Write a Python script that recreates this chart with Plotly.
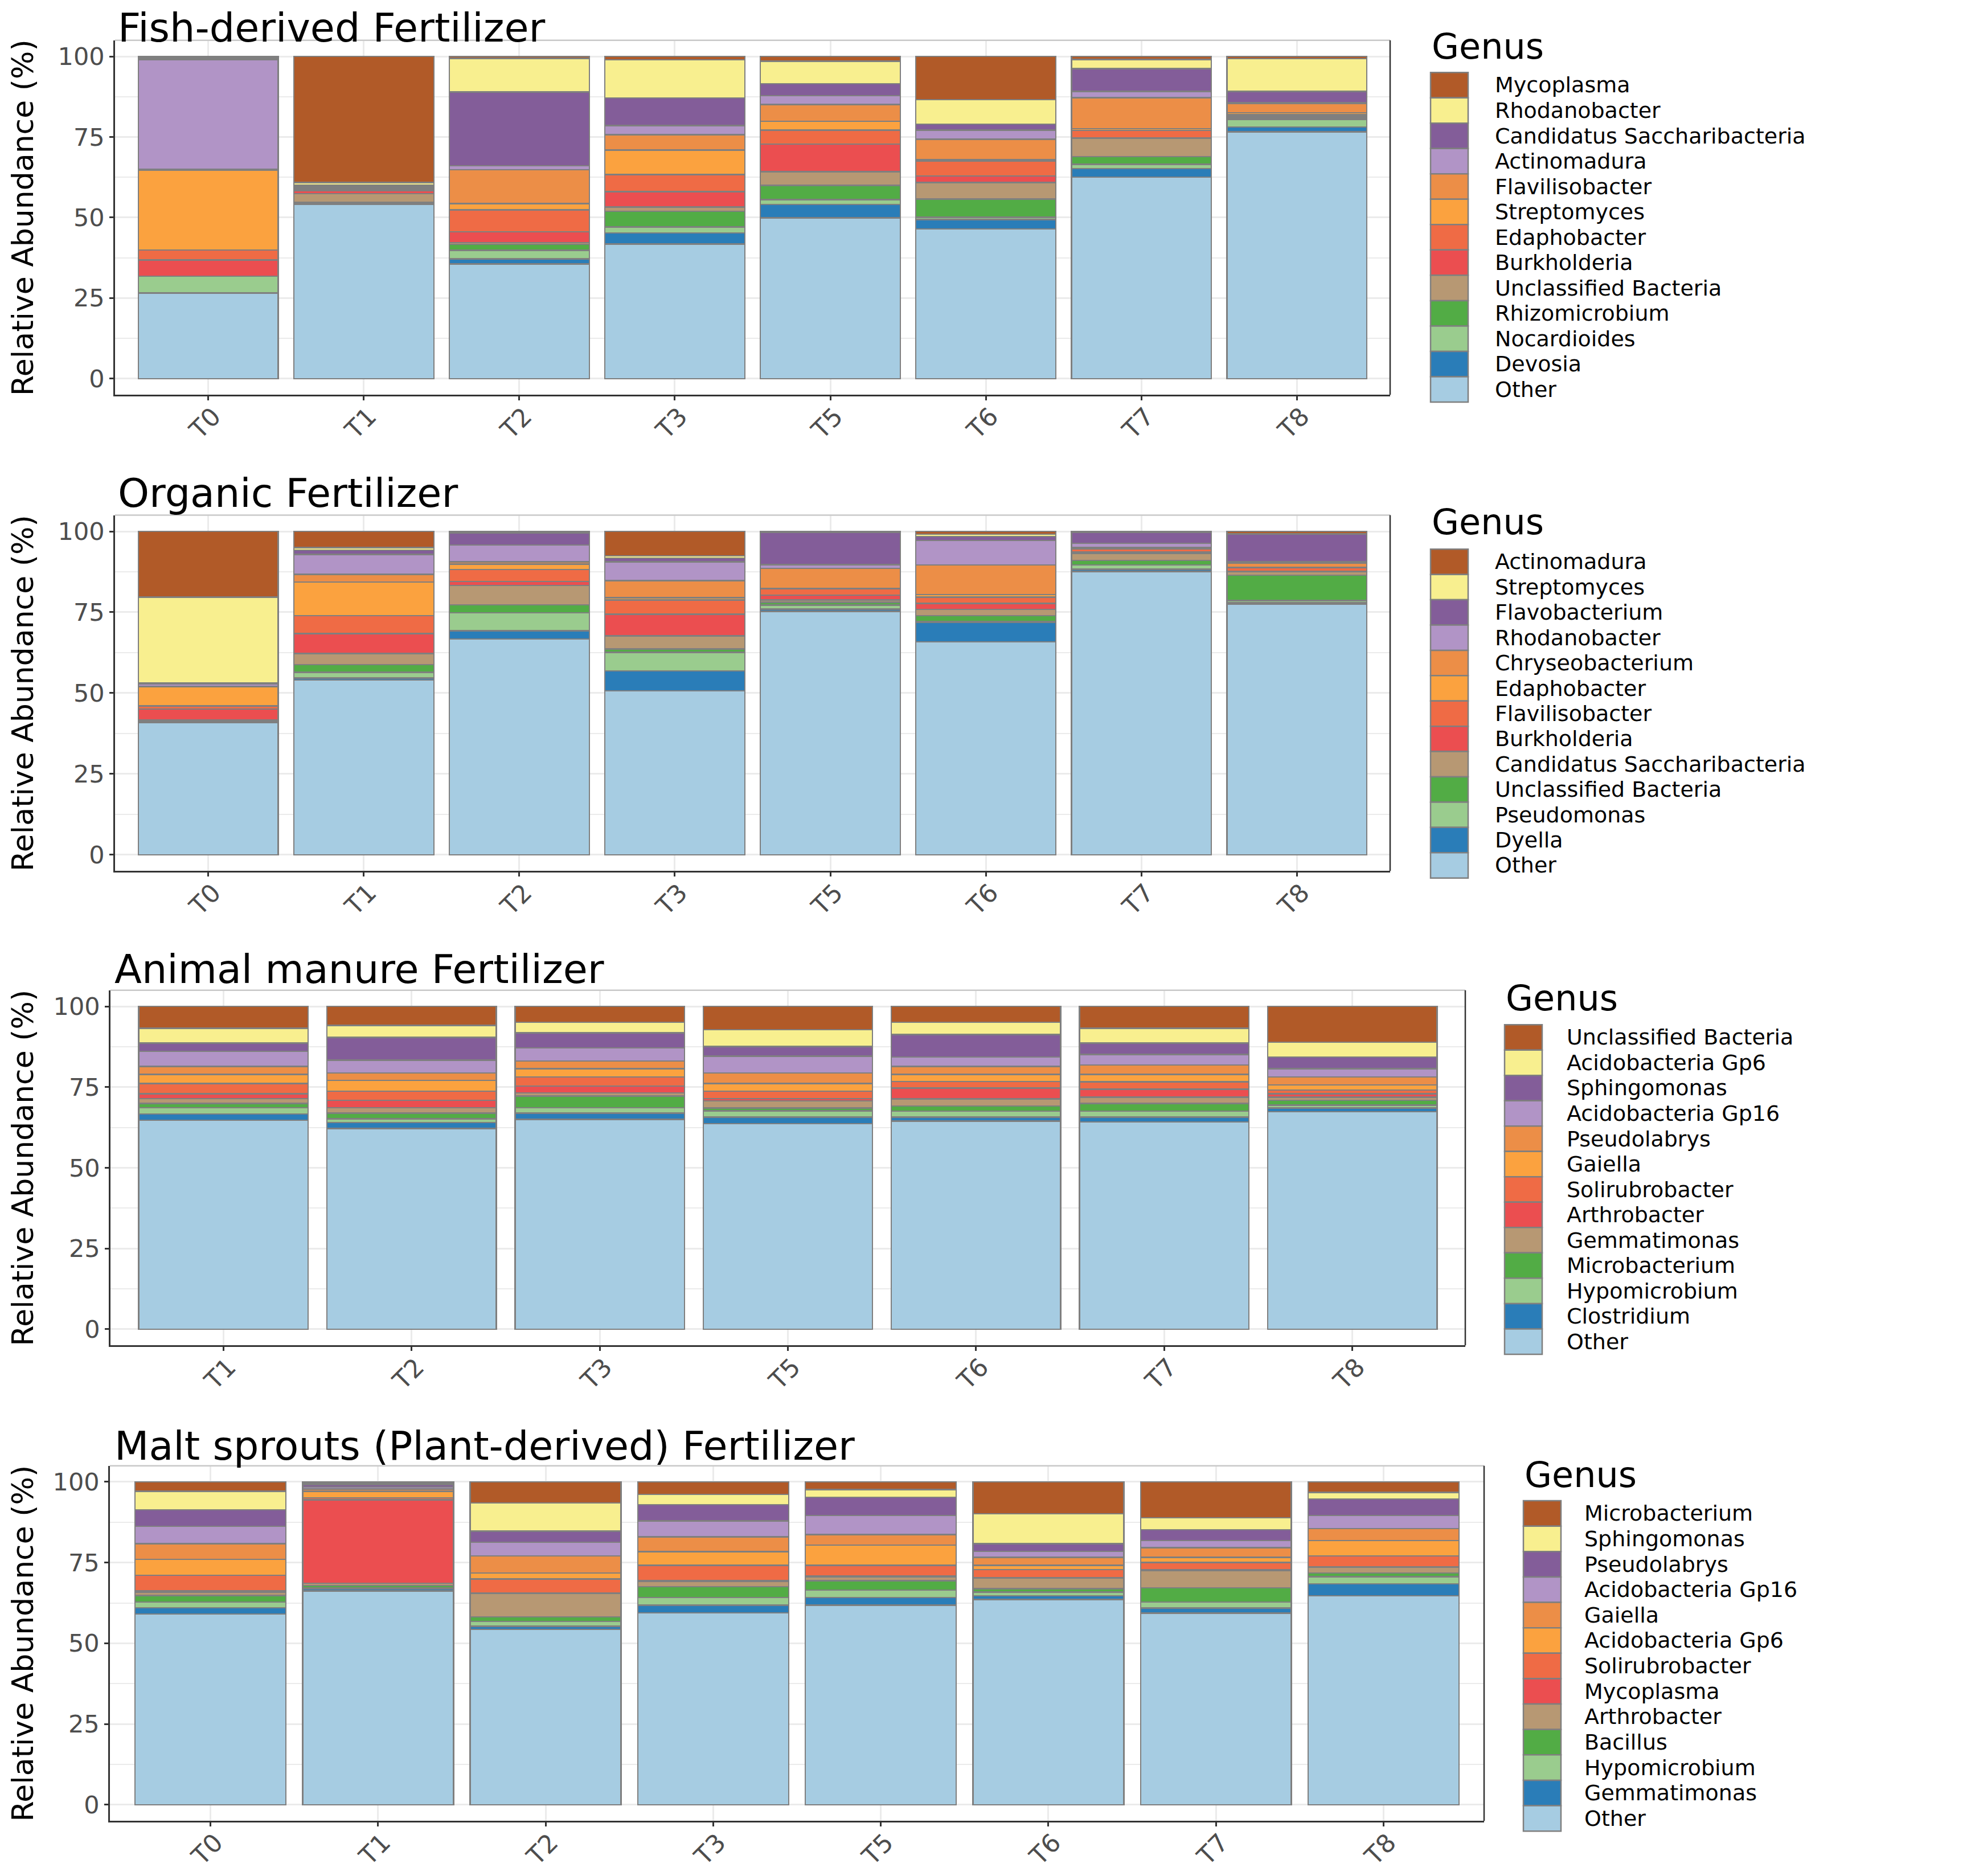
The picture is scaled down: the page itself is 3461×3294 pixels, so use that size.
import plotly.graph_objects as go

# Data (relative abundance in %, rows follow legend order, columns follow time points)

COLORS = ["#B15A28", "#F8EF8F", "#835D99", "#B194C6", "#EC8E47", "#FBA23F", "#EF6B45",
          "#EB4E50", "#B79873", "#52AC45", "#9ACC8E", "#2A7DB8", "#A6CCE2"]

FISH_TIMES = ["T0", "T1", "T2", "T3", "T5", "T6", "T7", "T8"]
FISH_GENERA = ["Mycoplasma", "Rhodanobacter", "Candidatus Saccharibacteria", "Actinomadura",
               "Flavilisobacter", "Streptomyces", "Edaphobacter", "Burkholderia",
               "Unclassified Bacteria", "Rhizomicrobium", "Nocardioides", "Devosia", "Other"]
FISH_VALUES = [
    [0.4, 39.1, 0.6, 1.1, 1.5, 13.4, 1.0, 0.7],
    [0.3, 0.8, 10.4, 11.8, 7.0, 7.6, 2.8, 10.2],
    [0.4, 0.4, 22.9, 8.6, 3.7, 1.9, 7.1, 3.4],
    [33.9, 0.4, 1.3, 2.8, 2.7, 2.8, 1.9, 0.3],
    [0.3, 0.3, 10.5, 4.8, 5.2, 6.3, 9.6, 2.9],
    [24.8, 0.4, 1.9, 7.6, 2.8, 0.4, 0.6, 0.5],
    [3.1, 0.3, 6.8, 5.3, 4.3, 4.7, 2.3, 0.5],
    [5.0, 0.9, 3.4, 4.7, 8.6, 2.0, 0.1, 0.5],
    [0.0, 2.6, 0.5, 1.4, 4.2, 5.2, 5.7, 0.4],
    [0.0, 0.2, 1.9, 4.8, 4.4, 5.6, 2.4, 0.2],
    [5.2, 0.3, 2.6, 1.9, 1.5, 0.7, 1.3, 2.3],
    [0.0, 0.2, 1.6, 3.4, 4.2, 2.9, 2.7, 1.5],
    [26.6, 54.1, 35.6, 41.8, 49.9, 46.5, 62.5, 76.6],
]

ORGANIC_TIMES = ["T0", "T1", "T2", "T3", "T5", "T6", "T7", "T8"]
ORGANIC_GENERA = ["Actinomadura", "Streptomyces", "Flavobacterium", "Rhodanobacter",
                  "Chryseobacterium", "Edaphobacter", "Flavilisobacter", "Burkholderia",
                  "Candidatus Saccharibacteria", "Unclassified Bacteria", "Pseudomonas",
                  "Dyella", "Other"]
ORGANIC_VALUES = [
    [20.3, 5.0, 0.3, 7.6, 0.2, 0.9, 0.2, 0.7],
    [26.6, 0.8, 0.2, 0.7, 0.1, 0.7, 0.1, 0.1],
    [0.2, 1.3, 3.7, 1.1, 10.0, 1.2, 3.4, 8.6],
    [0.8, 6.2, 5.2, 5.8, 1.1, 7.6, 1.3, 0.5],
    [0.2, 2.4, 0.7, 5.3, 6.2, 9.1, 0.3, 1.2],
    [5.9, 10.4, 1.7, 0.7, 0.2, 0.8, 0.1, 0.1],
    [0.9, 5.5, 3.7, 4.4, 1.9, 2.0, 1.0, 1.1],
    [3.5, 6.2, 1.2, 6.7, 1.5, 1.8, 0.4, 0.2],
    [0.2, 3.4, 6.0, 4.1, 0.7, 2.0, 2.2, 1.1],
    [0.2, 2.4, 2.5, 1.0, 0.9, 1.7, 1.4, 7.8],
    [0.2, 1.7, 5.5, 5.7, 1.2, 0.3, 1.3, 0.7],
    [0.2, 0.7, 2.6, 6.2, 0.7, 6.1, 0.7, 0.4],
    [40.8, 54.0, 66.7, 50.7, 75.3, 65.8, 87.6, 77.5],
]

MANURE_TIMES = ["T1", "T2", "T3", "T5", "T6", "T7", "T8"]
MANURE_GENERA = ["Unclassified Bacteria", "Acidobacteria Gp6", "Sphingomonas",
                 "Acidobacteria Gp16", "Pseudolabrys", "Gaiella", "Solirubrobacter",
                 "Arthrobacter", "Gemmatimonas", "Microbacterium", "Hypomicrobium",
                 "Clostridium", "Other"]
MANURE_VALUES = [
    [6.8, 5.9, 4.9, 7.2, 4.9, 6.8, 11.1],
    [4.6, 3.7, 3.3, 5.2, 3.8, 4.6, 4.6],
    [2.5, 7.1, 4.7, 3.0, 7.0, 3.5, 3.6],
    [4.7, 3.9, 4.0, 5.2, 2.9, 3.3, 2.6],
    [2.5, 2.3, 2.4, 3.3, 2.5, 2.9, 2.4],
    [2.8, 3.4, 2.6, 2.4, 2.2, 2.3, 1.6],
    [3.2, 2.8, 2.8, 2.3, 2.0, 2.3, 1.2],
    [1.5, 2.3, 2.1, 0.7, 3.4, 2.4, 1.0],
    [1.5, 1.7, 1.0, 2.2, 2.2, 2.0, 1.0],
    [1.3, 1.7, 3.6, 0.9, 1.6, 2.4, 1.5],
    [1.9, 1.2, 1.7, 1.9, 1.8, 1.8, 0.9],
    [2.0, 1.8, 1.9, 2.0, 1.2, 1.5, 1.1],
    [64.7, 62.2, 65.0, 63.7, 64.5, 64.2, 67.4],
]

MALT_TIMES = ["T0", "T1", "T2", "T3", "T5", "T6", "T7", "T8"]
MALT_GENERA = ["Microbacterium", "Sphingomonas", "Pseudolabrys", "Acidobacteria Gp16",
               "Gaiella", "Acidobacteria Gp6", "Solirubrobacter", "Mycoplasma",
               "Arthrobacter", "Bacillus", "Hypomicrobium", "Gemmatimonas", "Other"]
MALT_VALUES = [
    [2.9, 0.3, 6.5, 3.9, 2.4, 9.9, 11.1, 3.3],
    [5.7, 0.5, 8.8, 3.2, 2.4, 9.2, 3.7, 2.0],
    [5.2, 0.8, 3.4, 5.0, 5.6, 2.4, 3.4, 5.1],
    [5.3, 0.6, 4.2, 4.9, 5.9, 1.9, 2.2, 4.1],
    [4.9, 0.7, 5.3, 4.6, 3.3, 2.4, 3.0, 3.7],
    [4.9, 2.0, 1.9, 4.2, 6.2, 1.4, 1.6, 4.7],
    [4.9, 0.7, 4.3, 4.8, 3.4, 2.4, 2.2, 3.4],
    [0.3, 25.8, 0.2, 0.2, 0.2, 0.1, 0.3, 0.2],
    [1.1, 0.7, 7.2, 1.7, 1.2, 3.4, 5.3, 1.7],
    [2.0, 0.7, 1.4, 3.3, 2.9, 1.0, 4.4, 1.2],
    [1.8, 0.3, 1.5, 2.4, 2.3, 1.2, 1.9, 2.2],
    [1.9, 0.7, 1.0, 2.4, 2.4, 1.1, 1.6, 3.7],
    [59.1, 66.2, 54.3, 59.4, 61.8, 63.6, 59.3, 64.7],
]

# Layout (pixel positions measured on the 3461 x 3294 page)

PAGE_W, PAGE_H = 3461, 3294
BODY_MARGIN = 8                       # default page margin around the plot div
FIG_W = PAGE_W - 2 * BODY_MARGIN - 1
FIG_H = PAGE_H - 2 * BODY_MARGIN - 1
FONT = "DejaVu Sans"
OUTLINE = "#7F7F7F"
GRID = "#EBEBEB"
TICK_TEXT = "#4D4D4D"

PANELS = [
    dict(title="Fish-derived Fertilizer", times=FISH_TIMES, genera=FISH_GENERA, values=FISH_VALUES,
         xl=202, xr=2441, y100=100, y0=672, title_x=205, title_y=49,
         leg_x=2512, txt_x=2624, genus_y=82, item0=151, step=45.0),
    dict(title="Organic Fertilizer", times=ORGANIC_TIMES, genera=ORGANIC_GENERA, values=ORGANIC_VALUES,
         xl=202, xr=2441, y100=943, y0=1517, title_x=205, title_y=875,
         leg_x=2512, txt_x=2624, genus_y=926, item0=997, step=44.9),
    dict(title="Animal manure Fertilizer", times=MANURE_TIMES, genera=MANURE_GENERA, values=MANURE_VALUES,
         xl=194, xr=2573, y100=1786, y0=2359, title_x=199, title_y=1720,
         leg_x=2642, txt_x=2750, genus_y=1771, item0=1841, step=45.0),
    dict(title="Malt sprouts (Plant-derived) Fertilizer", times=MALT_TIMES, genera=MALT_GENERA, values=MALT_VALUES,
         xl=193, xr=2606, y100=2630, y0=3203, title_x=199, title_y=2566,
         leg_x=2675, txt_x=2781, genus_y=2617, item0=2686, step=45.1),
]


def px_x(x):
    return (x - BODY_MARGIN) / FIG_W


def px_y(y):
    return 1 - (y - BODY_MARGIN) / FIG_H


fig = go.Figure()
annotations = []
shapes = []
layout_axes = {}

for i, p in enumerate(PANELS):
    n = i + 1
    xname = "x" if n == 1 else f"x{n}"
    yname = "y" if n == 1 else f"y{n}"

    # stacked bars: Other at the bottom, first legend entry on top
    for k in reversed(range(len(p["genera"]))):
        fig.add_trace(go.Bar(
            x=p["times"], y=p["values"][k], name=p["genera"][k],
            marker=dict(color=COLORS[k], line=dict(color=OUTLINE, width=2.5)),
            xaxis=xname, yaxis=yname, showlegend=False,
        ))

    span = p["y0"] - p["y100"]
    top = p["y100"] - 0.05 * span
    bottom = p["y0"] + 0.05 * span
    n_cat = len(p["times"])

    layout_axes["xaxis" if n == 1 else f"xaxis{n}"] = dict(
        domain=[px_x(p["xl"]), px_x(p["xr"])], anchor=yname,
        type="category", range=[-0.6, n_cat - 0.4],
        showline=True, linecolor="#333333", linewidth=2.5,
        ticks="outside", ticklen=7, tickwidth=3, tickcolor="#333333",
        tickangle=-45, ticklabelstandoff=-15, ticklabelshift=9,
        tickfont=dict(family=FONT, size=44, color=TICK_TEXT),
        showgrid=True, gridcolor=GRID, gridwidth=2.5, zeroline=False,
    )
    layout_axes["yaxis" if n == 1 else f"yaxis{n}"] = dict(
        domain=[px_y(bottom), px_y(top)], anchor=xname,
        range=[-5, 105], tickvals=[0, 25, 50, 75, 100],
        showline=True, linecolor="#333333", linewidth=2.5,
        ticks="outside", ticklen=7, tickwidth=3, tickcolor="#333333",
        tickfont=dict(family=FONT, size=43, color=TICK_TEXT),
        showgrid=True, gridcolor=GRID, gridwidth=2.5, zeroline=False,
        minor=dict(dtick=12.5, showgrid=True, gridcolor=GRID, gridwidth=1.5),
    )

    # panel border: light top, dark right
    shapes.append(dict(type="line", xref=f"{xname} domain", yref=f"{yname} domain",
                       x0=0, x1=1, y0=1, y1=1, line=dict(color="#C8C8C8", width=2.5)))
    shapes.append(dict(type="line", xref=f"{xname} domain", yref=f"{yname} domain",
                       x0=1, x1=1, y0=0, y1=1, line=dict(color="#333333", width=2.5)))

    # panel title
    annotations.append(dict(text=p["title"], xref="paper", yref="paper",
                            x=px_x(p["title_x"]), y=px_y(p["title_y"]),
                            xanchor="left", yanchor="middle", showarrow=False,
                            font=dict(family=FONT, size=70, color="black")))
    # y axis title
    annotations.append(dict(text="Relative Abundance (%)", xref="paper", yref="paper",
                            x=px_x(40), y=px_y((p["y100"] + p["y0"]) / 2),
                            xanchor="center", yanchor="middle", textangle=-90, showarrow=False,
                            font=dict(family=FONT, size=52, color="black")))

    # legend
    annotations.append(dict(text="Genus", xref="paper", yref="paper",
                            x=px_x(p["leg_x"]), y=px_y(p["genus_y"]),
                            xanchor="left", yanchor="middle", showarrow=False,
                            font=dict(family=FONT, size=62, color="black")))
    for k, genus in enumerate(p["genera"]):
        yc = p["item0"] + k * p["step"]
        shapes.append(dict(type="rect", xref="paper", yref="paper",
                           x0=px_x(p["leg_x"]), x1=px_x(p["leg_x"] + 66),
                           y0=px_y(yc + p["step"] / 2), y1=px_y(yc - p["step"] / 2),
                           fillcolor=COLORS[k], line=dict(color=OUTLINE, width=2.5)))
        annotations.append(dict(text=genus, xref="paper", yref="paper",
                                x=px_x(p["txt_x"]), y=px_y(yc),
                                xanchor="left", yanchor="middle", showarrow=False,
                                borderpad=0,
                                font=dict(family=FONT, size=38, color="black")))

fig.update_layout(
    width=FIG_W, height=FIG_H,
    margin=dict(l=0, r=0, t=0, b=0),
    paper_bgcolor="white", plot_bgcolor="white",
    barmode="stack", bargap=0.1,
    annotations=annotations, shapes=shapes,
    font=dict(family=FONT),
    **layout_axes,
)

fig.write_html("out.html")
